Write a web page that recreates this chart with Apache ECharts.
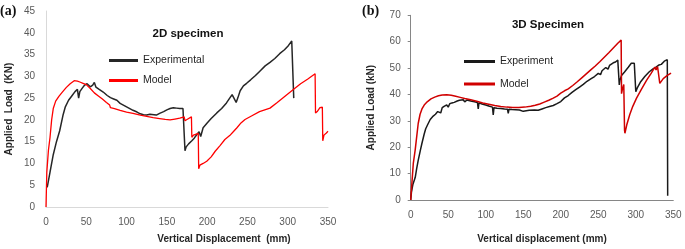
<!DOCTYPE html>
<html>
<head>
<meta charset="utf-8">
<script src="https://cdn.jsdelivr.net/npm/echarts@6/dist/echarts.min.js"></script>
<style>
  html, body { margin: 0; padding: 0; background: #fff; }
  #chart { width: 685px; height: 249px; }
</style>
</head>
<body>
<div id="chart"></div>
<script>
// (a) 2D specimen: [displacement mm, load kN]
const exp2D = [
  [1.5,4.5],[5,8],[9,12],[13,15],[17,17.5],[21,21],[24,23],[28,24.5],[32,25.5],[36,26.5],[39,27],
  [40.5,25],[42,26.5],[45,27.3],[48,28],[51,28.3],[55,27.6],[58,28],[60,28.6],[62,27.5],[66,27],
  [71,26.4],[76,25.6],[80,25.1],[84,24.8],[88,24.5],[92,23.8],[96,23.4],[100,23],[104,22.6],
  [108,22.2],[113,21.8],[117,21.4],[121,21.2],[125,21.1],[129,21.3],[131,21.6],[134,21.2],
  [137,21.1],[141,21.5],[146,21.9],[150,22.3],[154,22.6],[158,22.8],[162,22.7],[166,22.6],
  [170,22.6],[171.5,22.5],[172.5,12.9],[174,13.8],[177,14.5],[181,15.2],[184,15.8],[187,16.6],
  [190,17.3],[192,16.2],[195,18.2],[200,19.3],[205,20.3],[212,21.6],[218,22.6],[224,23.9],
  [228,25],[231,25.8],[233,25.4],[236,24],[238,25],[241,26.7],[245,27.8],[249,28.4],[254,29.2],
  [260,30.2],[266,31.3],[272,32.4],[278,33.2],[284,34.1],[290,35.2],[296,36.1],[301,37.1],
  [305,38.1],[307,38.5],[307.5,25]
];
const mod2D = [
  [0,0],[1,8],[3,13],[5,16],[7,20],[9,22.6],[12,24.3],[16,25.4],[20,26.3],[25,27.4],[30,28.3],
  [35,29],[37,29.2],[39,28.9],[42,28.7],[46,28.4],[50,28.1],[55,27.2],[60,26.2],[65,25.5],
  [70,24.8],[75,24],[79,23.4],[80,22.8],[85,22.6],[92,22.2],[100,21.8],[108,21.5],[117,21.1],
  [125,20.8],[133,20.5],[141,20.3],[148,20.1],[154,20],[160,20.2],[166,20.4],[171.5,20.7],
  [172.5,19.8],[176,20.2],[180.5,20.7],[181,16],[183,16.5],[189,16.9],[189.5,8.8],[191,9.6],
  [195,10],[199.5,10.5],[205,11.5],[210,12.8],[216,14.1],[222,15.5],[228,16.4],[233,17.4],
  [237,18.2],[242,19.3],[247,20.1],[255,20.9],[265,21.9],[278,22.7],[287,24],[297,25.5],
  [307,27],[316,28.3],[325,29.4],[334,30.6],[334.5,21.6],[337,22],[340,22.8],[343,22.9],
  [343.5,15.2],[345,16.5],[348,17],[350,17.4]
];

// (b) 3D specimen
const exp3D = [
  [0,0],[1,3],[3,6],[6,8.5],[8,12],[10,15],[13,19],[15,21.5],[18,25],[20,27],[23,28.8],[26,30.5],
  [28,29.8],[30,31.8],[33,32.5],[36,33.5],[38,34],[40,33],[42,35],[45,35.6],[48,36],[50,35.2],
  [52,36.5],[55,36.8],[58,37],[60,36.5],[62,37.5],[65,37.8],[70,38],[72,37.2],[75,37.9],[80,37.5],
  [85,37.2],[89,36.9],[90,34.5],[91,36.8],[95,36.4],[100,36],[105,35.5],[109,35.2],[110,32.2],
  [111,35],[115,34.8],[120,34.7],[125,34.5],[129,34.4],[130,32.8],[131,34.4],[135,34.3],
  [140,34.2],[145,34.1],[150,33.6],[152,34],[158,34],[165,34.1],[170,34],[172,33.6],[175,34.5],
  [180,35],[185,35.4],[190,35.8],[195,36.5],[200,37.3],[205,38.7],[210,39.6],[215,40.8],
  [220,41.8],[225,42.8],[230,43.8],[235,45],[240,45.9],[242,45.2],[245,46.8],[250,48],
  [253,47.5],[255,49],[260,50.2],[263,49.6],[265,51],[270,52],[273,52.3],[276,53],[277.5,52.6],
  [278,43.6],[279,45.5],[281,47.2],[285,48.5],[290,50.3],[294,51.8],[298,51.8],[299.5,51.5],
  [300,41],[302,42.5],[306,44.6],[312,46.8],[318,48.6],[323,49.7],[327,50.4],[331,51.2],
  [334,51.4],[338,52.6],[342,53.2],[342.5,1.6]
];
const mod3D = [
  [0,0],[1.5,6],[3.5,14],[6,19],[8,24],[10,29],[12.5,32.5],[15,34.5],[18,36],[22,37.2],[27,38.3],
  [32,39],[37,39.5],[42,39.8],[48,39.9],[54,39.7],[60,39.3],[66,38.9],[72,38.5],[80,38],
  [88,37.4],[96,36.8],[104,36.3],[112,35.8],[120,35.4],[128,35.2],[136,35.1],[144,35.1],
  [152,35.2],[160,35.5],[166,35.9],[172,36.4],[178,37.1],[184,37.8],[190,38.6],[195,39.4],
  [200,40.5],[205,41.4],[210,42.1],[216,43.4],[222,44.8],[228,46.3],[234,47.8],[240,49.3],
  [246,50.8],[252,52.4],[258,54.1],[264,55.8],[270,57.6],[276,59.4],[280.5,60.6],[281,40.3],
  [282,41.8],[284,43.8],[285,26.5],[285.5,25.3],[288,28.5],[292,32.4],[296,35.5],[301,38.6],
  [308,42.2],[314.5,45.4],[320,47.8],[325.5,50.4],[327,49.3],[329,50.6],[331,50.8],[332,44.2],
  [336.6,46],[342,47.2],[347,48.1]
];

const xMax = 350;
const xStep = 50;
const yMaxA = 45, yStepA = 5;
const yMaxB = 70, yStepB = 10;

const FONT = 'Liberation Sans';
const tickLabel = { color: '#595959', fontSize: 10, fontFamily: FONT };
const axisName = { color: '#262626', fontSize: 10, fontWeight: 'bold', fontFamily: FONT };

const chart = echarts.init(document.getElementById('chart'));

chart.setOption({
  animation: false,
  grid: [
    { left: 46, top: 11, width: 282, height: 200 },
    { left: 410.7, top: 15.3, width: 262.6, height: 189 }
  ],
  xAxis: [
    {
      gridIndex: 0, type: 'value', min: 0, max: xMax, interval: xStep,
      name: 'Vertical Displacement  (mm)', nameLocation: 'middle', nameGap: 27,
      nameTextStyle: Object.assign({ padding: [0, 0, 0, 74] }, axisName),
      axisLine: { lineStyle: { color: '#d9d9d9', width: 1 } },
      axisTick: { show: false }, splitLine: { show: false },
      axisLabel: Object.assign({ margin: 10 }, tickLabel)
    },
    {
      gridIndex: 1, type: 'value', min: 0, max: xMax, interval: xStep,
      name: 'Vertical displacement (mm)', nameLocation: 'middle', nameGap: 34,
      nameTextStyle: axisName,
      axisLine: { lineStyle: { color: '#868686', width: 1 } },
      axisTick: { show: false }, splitLine: { show: false },
      axisLabel: Object.assign({ margin: 10 }, tickLabel)
    }
  ],
  yAxis: [
    {
      gridIndex: 0, type: 'value', min: 0, max: yMaxA, interval: yStepA,
      name: 'Applied  Load  (KN)', nameLocation: 'middle', nameGap: 32, nameRotate: 90,
      nameTextStyle: axisName,
      axisLine: { show: true, lineStyle: { color: '#d9d9d9', width: 1 } },
      axisTick: { show: false }, splitLine: { show: false },
      axisLabel: Object.assign({ margin: 11 }, tickLabel)
    },
    {
      gridIndex: 1, type: 'value', min: 0, max: yMaxB, interval: yStepB,
      name: 'Applied Load (kN)', nameLocation: 'middle', nameGap: 34, nameRotate: 90,
      nameTextStyle: axisName,
      axisLine: { show: true, lineStyle: { color: '#868686', width: 1 } },
      axisTick: { show: true, length: 3, lineStyle: { color: '#868686' } },
      splitLine: { show: false },
      axisLabel: Object.assign({ margin: 10 }, tickLabel)
    }
  ],
  legend: [
    {
      data: ['Experimental', 'Model'], orient: 'vertical', left: 109, top: 55, padding: 0,
      itemWidth: 29, itemHeight: 3, itemGap: 9, icon: 'rect',
      textStyle: { color: '#262626', fontSize: 10.5, fontFamily: FONT }
    },
    {
      data: ['Experiment', 'Model 3D'], orient: 'vertical', left: 464, top: 56, padding: 0,
      itemWidth: 31, itemHeight: 3, itemGap: 11.5, icon: 'rect',
      formatter: n => n === 'Model 3D' ? 'Model' : n,
      textStyle: { color: '#262626', fontSize: 10.5, fontFamily: FONT }
    }
  ],
  graphic: [
    { type: 'text', left: 0, top: 4, style: { text: '(a)', font: 'bold 14px "Liberation Serif"', fill: '#111' } },
    { type: 'text', left: 362, top: 4, style: { text: '(b)', font: 'bold 14px "Liberation Serif"', fill: '#111' } },
    { type: 'text', x: 188, y: 34, style: { text: '2D specimen', font: 'bold 11.5px "Liberation Sans"', fill: '#111', align: 'center', verticalAlign: 'middle' } },
    { type: 'text', x: 548, y: 25, style: { text: '3D Specimen', font: 'bold 11.5px "Liberation Sans"', fill: '#111', align: 'center', verticalAlign: 'middle' } }
  ],
  series: [
    { name: 'Experimental', type: 'line', xAxisIndex: 0, yAxisIndex: 0, data: exp2D, showSymbol: false, color: '#262626', lineStyle: { width: 1.5 } },
    { name: 'Model', type: 'line', xAxisIndex: 0, yAxisIndex: 0, data: mod2D, showSymbol: false, color: '#ff0000', lineStyle: { width: 1.3 } },
    { name: 'Experiment', type: 'line', xAxisIndex: 1, yAxisIndex: 1, data: exp3D, showSymbol: false, color: '#1a1a1a', lineStyle: { width: 1.5 } },
    { name: 'Model 3D', type: 'line', xAxisIndex: 1, yAxisIndex: 1, data: mod3D, showSymbol: false, color: '#d00000', lineStyle: { width: 1.5 } }
  ]
});
</script>
</body>
</html>
